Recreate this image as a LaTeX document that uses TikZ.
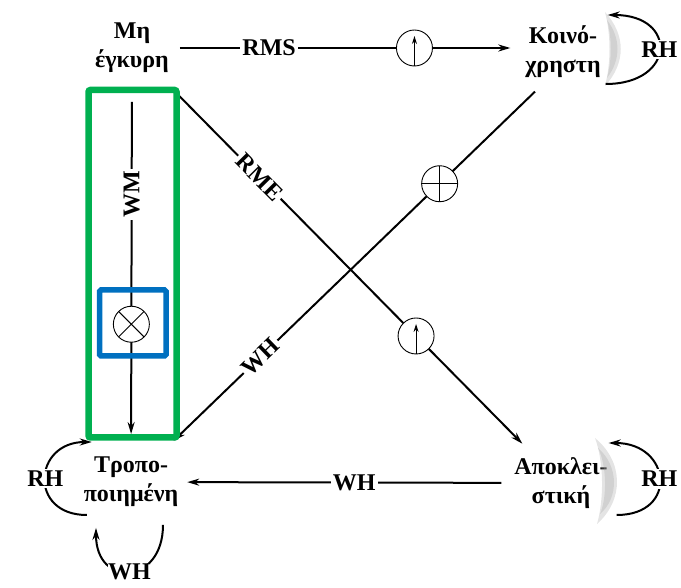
\documentclass[tikz,border=0pt]{standalone}
\usepackage{fontspec}
\setmainfont{Liberation Serif}
\usetikzlibrary{arrows.meta}
\definecolor{hlgreen}{RGB}{0,176,80}
\definecolor{hlblue}{RGB}{0,112,192}
\begin{document}
\begin{tikzpicture}[>={Stealth[length=12pt,width=7pt]}, x=1pt, y=-1pt, line width=2pt,
    font=\bfseries\fontsize{24}{29}\selectfont]
    \tikzset{state/.style={align=center, inner sep=0pt},
        lbl/.style={fill=white, inner sep=2pt},
        inner/.style={line width=0.9pt, shorten <=0pt, shorten >=0pt},
        gate/.style={circle, draw, line width=0.9pt, fill=white, minimum size=36pt, inner sep=0pt},
        upgate/.style={gate, path picture={\draw[inner, -{Stealth[length=8pt,width=5pt]}] (path picture bounding box.south) -- ([yshift=-6pt]path picture bounding box.north);}},
        plusgate/.style={gate, path picture={\draw[inner, -] (path picture bounding box.south) -- (path picture bounding box.north) (path picture bounding box.west) -- (path picture bounding box.east);}},
        crossgate/.style={gate, path picture={\draw[inner, -] ([shift={(45:18pt)}]path picture bounding box.center) -- ([shift={(225:18pt)}]path picture bounding box.center) ([shift={(135:18pt)}]path picture bounding box.center) -- ([shift={(315:18pt)}]path picture bounding box.center);}},
        glow/.style={fill=gray!70, draw=none, opacity=.3}}
    \useasboundingbox (0,0) rectangle (681,588);

    \node[state] (inv) at (132,48) {Μη\\έγκυρη};
    \node[state] (shr) at (563,52) {Κοινό-\\χρηστη};
    \node[state] (mod) at (131,482) {Τροπο-\\ποιημένη};
    \node[state] (exc) at (561,483) {Αποκλει-\\στική};

    % shading beside the shared and exclusive states
    \fill[glow] (605,12) .. controls (626,35) and (626,63) .. (605,86) .. controls (611,63) and (611,35) .. (605,12);
    \fill[glow] (607,20) .. controls (621,38) and (621,60) .. (607,78) .. controls (612,60) and (612,38) .. (607,20);
    \fill[glow] (595,438) .. controls (624,462) and (624,500) .. (597,524) .. controls (604,500) and (604,462) .. (595,438);
    \fill[glow] (598,448) .. controls (619,466) and (619,498) .. (600,514) .. controls (607,498) and (607,466) .. (598,448);

    \draw[->, shorten <=10pt, shorten >=14pt] (inv.east) -- node[pos=.28, lbl] {RMS} node[pos=.69, upgate] {} (inv.east -| shr.west);
    \draw[->, shorten <=28pt, shorten >=22pt] (inv) -- node[pos=.315, lbl, rotate=90] {WM} node[pos=.655, crossgate] {} (mod);
    \draw[->, shorten <=20pt, shorten >=18pt] (inv) -- node[pos=.27, lbl, sloped] {RME} node[pos=.685, upgate] {} (exc);
    \draw[->, shorten <=57pt, shorten >=22pt] ([xshift=13pt]shr.center) -- node[pos=.326, plusgate] {} node[pos=.754, lbl, sloped] {WH} (mod);
    \draw[->, shorten <=12pt, shorten >=8pt] (exc) -- node[pos=.476, lbl] {WH} (mod);

    % hits that keep the state
    \draw[->] ([xshift=4pt,yshift=-32pt]shr.east) to[out=0, in=0, looseness=2.6] node[lbl] {RH} ([xshift=6pt,yshift=37pt]shr.east);
    \draw[->] ([xshift=8pt,yshift=-32pt]exc.east) to[out=0, in=0, looseness=2.2] node[lbl] {RH} ([xshift=0pt,yshift=40pt]exc.east);
    \draw[->] ([xshift=4pt,yshift=-33pt]mod.west) to[out=180, in=180, looseness=2.05] node[lbl] {RH} ([xshift=9pt,yshift=40pt]mod.west);
    \draw[->] ([xshift=32pt,yshift=-17pt]mod.south) to[out=-90, in=-90, looseness=2.3] node[lbl, inner sep=0pt] {WH} ([xshift=-35pt,yshift=-20pt]mod.south);

    \draw[hlgreen, line width=6.5pt, rounded corners=2pt] (88.5,90) rectangle (176.5,437.5);
    \draw[hlblue, line width=5.5pt, rounded corners=1.5pt] (99.5,290) rectangle (166,356);
\end{tikzpicture}
\end{document}
